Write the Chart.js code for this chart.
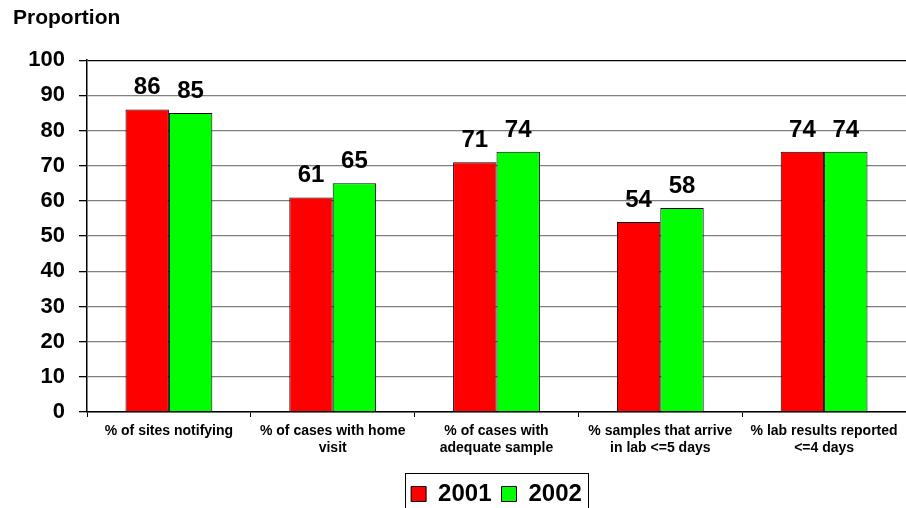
<!DOCTYPE html>
<html>
<head>
<meta charset="utf-8">
<script src="https://cdn.jsdelivr.net/npm/chart.js@4/dist/chart.umd.min.js"></script>
<style>
  html, body { margin: 0; padding: 0; background: #fff; }
  #wrap { width: 906px; height: 508px; }
</style>
</head>
<body>
<div id="wrap"><canvas id="chart" width="906" height="508"></canvas></div>
<script>
const categories = [
  ['% of sites notifying'],
  ['% of cases with home', 'visit'],
  ['% of cases with', 'adequate sample'],
  ['% samples that arrive', 'in lab <=5 days'],
  ['% lab results reported', '<=4 days']
];
const values2001 = [86, 61, 71, 54, 74];
const values2002 = [85, 65, 74, 58, 74];
const yTicks = [0, 10, 20, 30, 40, 50, 60, 70, 80, 90, 100];

const FONT = "'Liberation Sans', Arial, sans-serif";

// value labels above each bar
const barLabels = {
  id: 'barLabels',
  afterDatasetsDraw(chart) {
    const ctx = chart.ctx;
    ctx.save();
    ctx.font = 'bold 24px ' + FONT;
    ctx.fillStyle = '#000';
    ctx.textAlign = 'center';
    ctx.textBaseline = 'alphabetic';
    chart.data.datasets.forEach((ds, i) => {
      chart.getDatasetMeta(i).data.forEach((bar, j) => {
        ctx.fillText(String(ds.data[j]), bar.x, bar.y - 15);
      });
    });
    ctx.restore();
  }
};

// frame around the legend
const legendBox = {
  id: 'legendBox',
  afterDraw(chart) {
    const boxes = chart.legend.legendHitBoxes;
    if (!boxes || !boxes.length) return;
    const first = boxes[0], last = boxes[boxes.length - 1];
    const ctx = chart.ctx;
    ctx.save();
    ctx.strokeStyle = '#000';
    ctx.lineWidth = 1;
    const x0 = Math.round(first.left - 6) + 0.5;
    const x1 = Math.round(last.left + last.width + 6) + 0.5;
    ctx.strokeRect(x0, 473.5, x1 - x0, 40);
    ctx.restore();
  }
};

new Chart(document.getElementById('chart'), {
  type: 'bar',
  data: {
    labels: categories,
    datasets: [
      {
        label: '2001',
        data: values2001,
        backgroundColor: '#ff0000',
        borderColor: '#000',
        borderWidth: 1,
        categoryPercentage: 0.53,
        barPercentage: 1
      },
      {
        label: '2002',
        data: values2002,
        backgroundColor: '#00ff00',
        borderColor: '#000',
        borderWidth: 1,
        categoryPercentage: 0.53,
        barPercentage: 1
      }
    ]
  },
  options: {
    responsive: false,
    animation: false,
    layout: { padding: { left: 13, right: 0, top: 0, bottom: -8 } },
    plugins: {
      title: {
        display: true,
        text: 'Proportion',
        align: 'start',
        color: '#000',
        font: { family: FONT, size: 21, weight: 'bold' },
        padding: { top: 6, bottom: 29 }
      },
      legend: {
        position: 'bottom',
        fullSize: false,
        labels: {
          color: '#000',
          font: { family: FONT, size: 24, weight: 'bold' },
          boxWidth: 15,
          boxHeight: 15,
          padding: 10,
          useBorderRadius: false
        }
      },
      tooltip: { enabled: false }
    },
    scales: {
      x: {
        grid: {
          offset: true,
          drawOnChartArea: false,
          tickLength: 5,
          color: '#000',
          tickColor: '#000'
        },
        border: { color: '#000', width: 1.5 },
        ticks: {
          color: '#000',
          font: { family: FONT, size: 14, weight: 'bold' },
          maxRotation: 0,
          padding: 6
        },
        afterFit(scale) { scale.height = 60; }
      },
      y: {
        min: 0,
        max: 100,
        afterBuildTicks(scale) { scale.ticks = yTicks.map(v => ({ value: v })); },
        grid: {
          color: c => (c.tick && c.tick.value === 100) ? '#000' : '#808080',
          lineWidth: 1.3,
          tickLength: 8,
          tickColor: '#000'
        },
        border: { color: '#000', width: 1.5 },
        ticks: {
          color: '#000',
          font: { family: FONT, size: 22, weight: 'bold' },
          padding: 14
        },
        afterFit(scale) { scale.width = 74; }
      }
    }
  },
  plugins: [barLabels, legendBox]
});
</script>
</body>
</html>
